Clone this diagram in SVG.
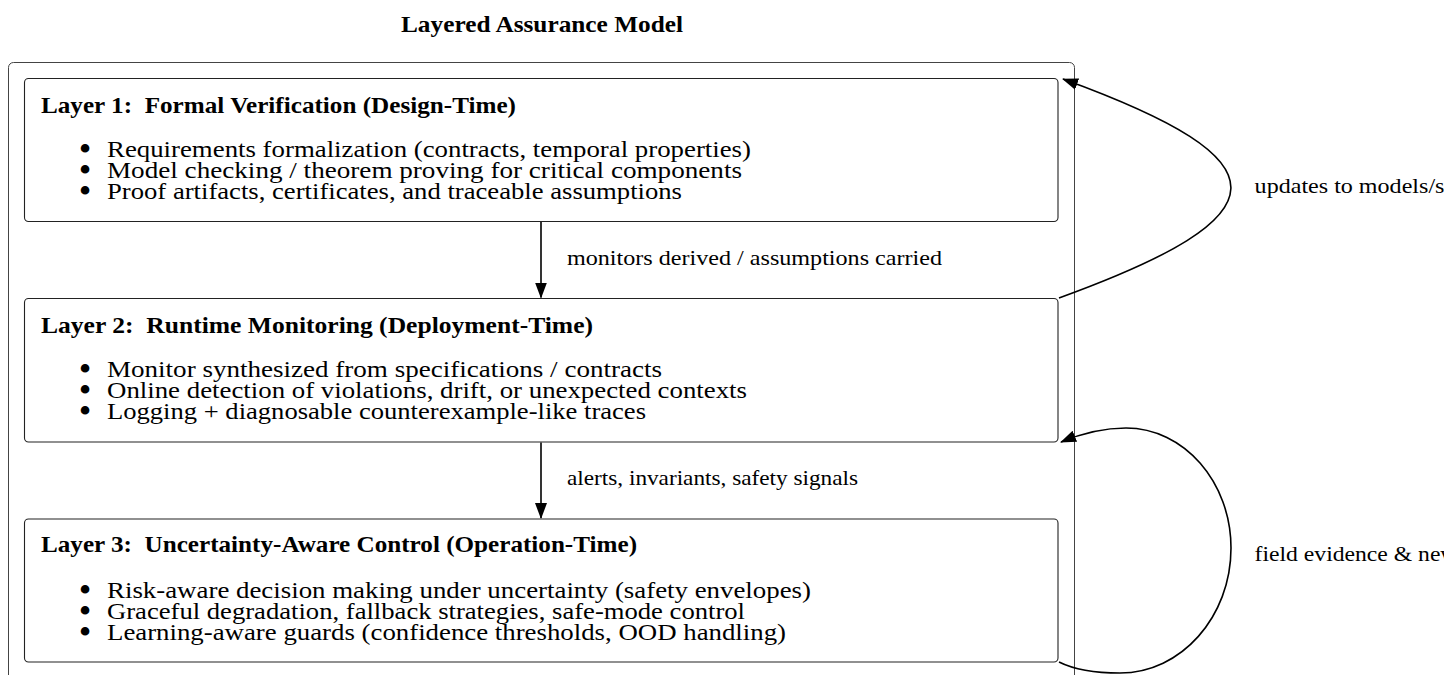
<svg xmlns="http://www.w3.org/2000/svg" width="1444" height="675" viewBox="0 0 1444 675">
  <defs>
    <marker id="arrow" markerUnits="userSpaceOnUse" markerWidth="16" markerHeight="12" refX="15" refY="6" orient="auto">
      <path d="M0,0 L16,6 L0,12 z" fill="#000"/>
    </marker>
    <style>
      text { font-family: "Liberation Serif", "Times New Roman", serif; fill: #000; }
      .title { font-size: 23px; font-weight: bold; }
      .head { font-size: 23px; font-weight: bold; }
      .item { font-size: 24px; }
      .dot { font-size: 36px; text-anchor: middle; }
      .lbl { font-size: 21.5px; }
      .outer { fill: none; stroke: #444; stroke-width: 1; }
      .layer { fill: #fff; stroke: #222; stroke-width: 1.1; }
      .flow { fill: none; stroke: #000; stroke-width: 1.6; marker-end: url(#arrow); }
    </style>
  </defs>

  <rect width="1444" height="675" fill="#fff"/>

  <text class="title" x="401" y="32" textLength="282" lengthAdjust="spacingAndGlyphs">Layered Assurance Model</text>

  <!-- enclosing frame around the three layers -->
  <rect class="outer" x="8.5" y="62.5" width="1066" height="630" rx="5"/>

  <g id="layer1">
    <rect class="layer" x="24.5" y="78.5" width="1033.5" height="143" rx="4"/>
    <text class="head" x="41" y="112.5" textLength="475" lengthAdjust="spacingAndGlyphs">Layer 1:&#160; Formal Verification (Design-Time)</text>
    <text class="dot" x="85" y="161">•</text>
    <text class="item" x="107" y="157" textLength="644" lengthAdjust="spacingAndGlyphs">Requirements formalization (contracts, temporal properties)</text>
    <text class="dot" x="85" y="182">•</text>
    <text class="item" x="107" y="178" textLength="635" lengthAdjust="spacingAndGlyphs">Model checking / theorem proving for critical components</text>
    <text class="dot" x="85" y="203">•</text>
    <text class="item" x="107" y="199" textLength="575" lengthAdjust="spacingAndGlyphs">Proof artifacts, certificates, and traceable assumptions</text>
  </g>

  <g id="layer2">
    <rect class="layer" x="24.5" y="298.5" width="1033.5" height="143.5" rx="4"/>
    <text class="head" x="41" y="332.5" textLength="552" lengthAdjust="spacingAndGlyphs">Layer 2:&#160; Runtime Monitoring (Deployment-Time)</text>
    <text class="dot" x="85" y="381">•</text>
    <text class="item" x="107" y="377" textLength="555" lengthAdjust="spacingAndGlyphs">Monitor synthesized from specifications / contracts</text>
    <text class="dot" x="85" y="402">•</text>
    <text class="item" x="107" y="398" textLength="640" lengthAdjust="spacingAndGlyphs">Online detection of violations, drift, or unexpected contexts</text>
    <text class="dot" x="85" y="423">•</text>
    <text class="item" x="107" y="419" textLength="539" lengthAdjust="spacingAndGlyphs">Logging + diagnosable counterexample-like traces</text>
  </g>

  <g id="layer3">
    <rect class="layer" x="24.5" y="519" width="1033.5" height="143" rx="4"/>
    <text class="head" x="41" y="552" textLength="596" lengthAdjust="spacingAndGlyphs">Layer 3:&#160; Uncertainty-Aware Control (Operation-Time)</text>
    <text class="dot" x="85" y="602">•</text>
    <text class="item" x="107" y="598" textLength="704" lengthAdjust="spacingAndGlyphs">Risk-aware decision making under uncertainty (safety envelopes)</text>
    <text class="dot" x="85" y="622.5">•</text>
    <text class="item" x="107" y="618.5" textLength="638" lengthAdjust="spacingAndGlyphs">Graceful degradation, fallback strategies, safe-mode control</text>
    <text class="dot" x="85" y="643.5">•</text>
    <text class="item" x="107" y="639.5" textLength="679" lengthAdjust="spacingAndGlyphs">Learning-aware guards (confidence thresholds, OOD handling)</text>
  </g>

  <g id="connectors">
    <!-- downward flow between layers -->
    <path class="flow" d="M541,222 L541,297.5"/>
    <text class="lbl" x="567" y="265" textLength="375" lengthAdjust="spacingAndGlyphs">monitors derived / assumptions carried</text>
    <path class="flow" d="M541,442.5 L541,518"/>
    <text class="lbl" x="567" y="485" textLength="291" lengthAdjust="spacingAndGlyphs">alerts, invariants, safety signals</text>

    <!-- feedback loops on the right -->
    <path class="flow" d="M1059,298 C1285.5,215.6 1289.5,161.4 1063,79"/>
    <text class="lbl" transform="translate(1254.6,193) scale(1.12,1)">updates to models/s</text>
    <path class="flow" d="M1059,662 C1075,670 1095,673 1120,673 C1181,673 1231,617 1231,548 C1231,482 1184,428 1126,428 C1100,428 1078,435 1061,442"/>
    <text class="lbl" transform="translate(1254.6,560.5) scale(1.1,1)">field evidence &amp; new</text>
  </g>
</svg>
